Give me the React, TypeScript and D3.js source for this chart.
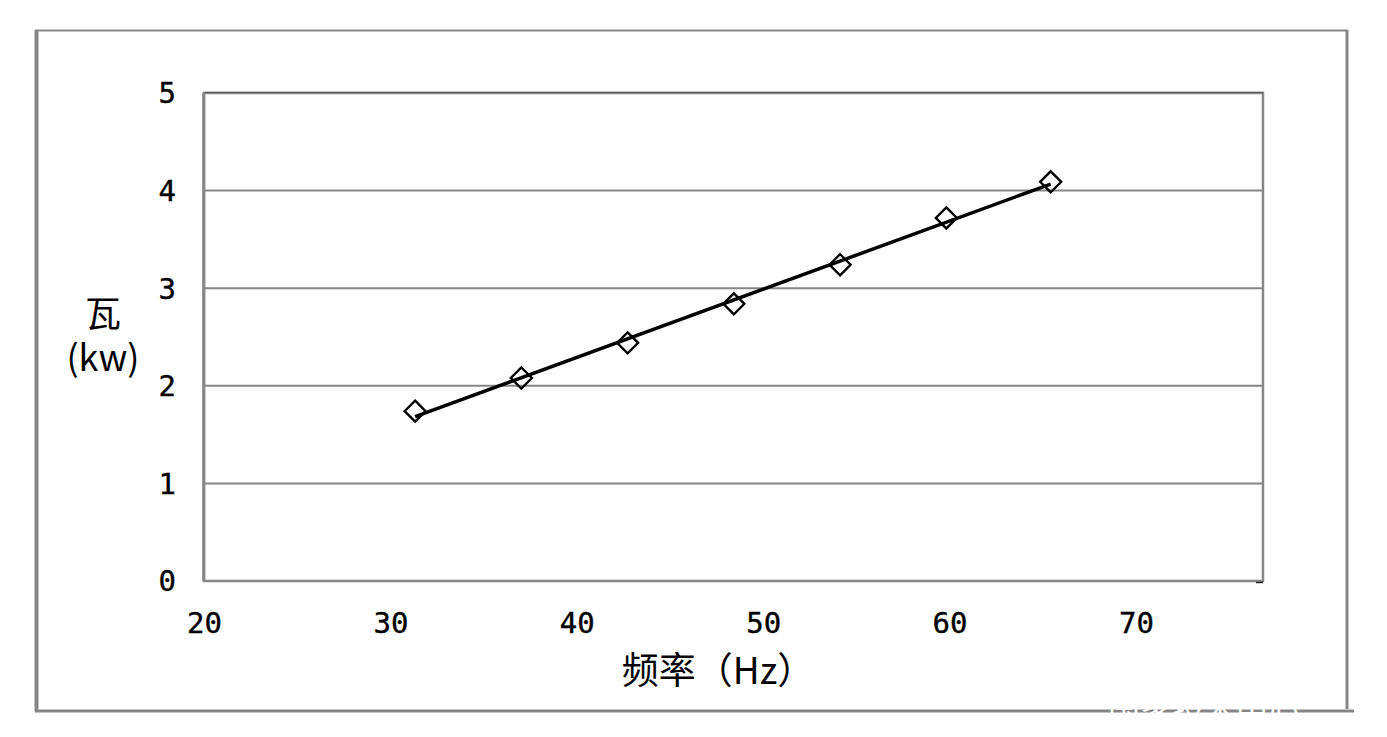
import React from "react";
import * as d3 from "d3";

const freqHz = [31.3, 37.0, 42.7, 48.4, 54.1, 59.8, 65.4];
const powerKw = [1.74, 2.08, 2.44, 2.84, 3.24, 3.72, 4.09];
const xTicks = [20, 30, 40, 50, 60, 70];
const yTicks = [0, 1, 2, 3, 4, 5];
const xTitle = "频率（Hz）";
const yTitleLines = ["瓦", "(kw)"];

const W = 1387;
const H = 737;
const GRAY = "#868686";
const MONO = "'DejaVu Sans Mono', monospace";
const CJK = "'Noto Sans CJK SC', 'Noto Sans', sans-serif";

export default function App() {
  const x = d3.scaleLinear().domain([20, 76.79]).range([204.5, 1263]);
  const y = d3.scaleLinear().domain([0, 5]).range([581, 93]);

  // linear trend line
  const n = freqHz.length;
  const mx = d3.mean(freqHz) as number;
  const my = d3.mean(powerKw) as number;
  let sxy = 0, sxx = 0;
  for (let i = 0; i < n; i++) {
    sxy += (freqHz[i] - mx) * (powerKw[i] - my);
    sxx += (freqHz[i] - mx) ** 2;
  }
  const slope = sxy / sxx;
  const icpt = my - slope * mx;
  const x0 = d3.min(freqHz) as number;
  const x1 = d3.max(freqHz) as number;
  const trend = d3.line<number>().x((d) => x(d)).y((d) => y(icpt + slope * d))([x0, x1]) as string;

  const r = 10.5;
  const diamond = (cx: number, cy: number) =>
    `M${cx},${cy - r}L${cx + r},${cy}L${cx},${cy + r}L${cx - r},${cy}Z`;

  return (
    <svg width={W} height={H} style={{ position: "absolute", left: 0, top: 0, background: "#fff" }}>
      <rect x={0} y={0} width={W} height={H} fill="#fff" />
      {/* outer frame */}
      <line x1={36.5} y1={30} x2={36.5} y2={711} stroke={GRAY} strokeWidth={4} />
      <line x1={35} y1={30.5} x2={1348} y2={30.5} stroke={GRAY} strokeWidth={2} />
      <line x1={1347} y1={30} x2={1347} y2={709} stroke={GRAY} strokeWidth={3} />
      <line x1={35} y1={711} x2={1354} y2={711} stroke={GRAY} strokeWidth={3} />

      {/* gridlines */}
      {yTicks.filter((t) => t > 0 && t < 5).map((t) => (
        <line key={t} x1={x.range()[0]} x2={x.range()[1]} y1={y(t)} y2={y(t)} stroke={GRAY} strokeWidth={2} />
      ))}
      {/* plot border */}
      <rect x={x.range()[0] - 0.5} y={y(5)} width={x.range()[1] - x.range()[0] + 0.5} height={y(0) - y(5)}
        fill="none" stroke={GRAY} strokeWidth={2.5} />
      <line x1={203.7} x2={203.7} y1={y(5)} y2={y(0)} stroke={GRAY} strokeWidth={3} />
      <line x1={x.range()[0]} x2={x.range()[1]} y1={y(5) - 0.7} y2={y(5) - 0.7} stroke="#555" strokeWidth={1} />
      <line x1={1256} x2={1263} y1={582.5} y2={582.5} stroke="#222" strokeWidth={1.5} />

      {/* y tick labels */}
      {yTicks.map((t) => (
        <text key={t} x={176} y={y(t)} dy="0.36em" textAnchor="end" fontFamily={MONO} fontSize={29}
          fill="#000" stroke="#000" strokeWidth={0.4}>
          {t}
        </text>
      ))}
      {/* x tick labels */}
      {xTicks.map((t) => (
        <text key={t} x={x(t)} y={633} textAnchor="middle" fontFamily={MONO} fontSize={29}
          fill="#000" stroke="#000" strokeWidth={0.4}>
          {t}
        </text>
      ))}

      {/* titles */}
      <text x={718} y={684} textAnchor="middle" fontFamily={CJK} fontSize={37} fill="#000">{xTitle}</text>
      <text x={103} y={327} textAnchor="middle" fontFamily={CJK} fontSize={36} fill="#000">{yTitleLines[0]}</text>
      <text x={103} y={371} textAnchor="middle" fontFamily={CJK} fontSize={36} fill="#000">{yTitleLines[1]}</text>

      {/* trend line */}
      <path d={trend} fill="none" stroke="#000" strokeWidth={3.5} />
      {/* markers */}
      {freqHz.map((f, i) => (
        <path key={i} d={diamond(x(f), y(powerKw[i]))} fill="none" stroke="#000" strokeWidth={2.4} />
      ))}

      {/* watermark fragment */}
      <text x={1108} y={722} fontFamily={CJK} fontSize={32} fill="#fff">国家技术中心</text>
    </svg>
  );
}
